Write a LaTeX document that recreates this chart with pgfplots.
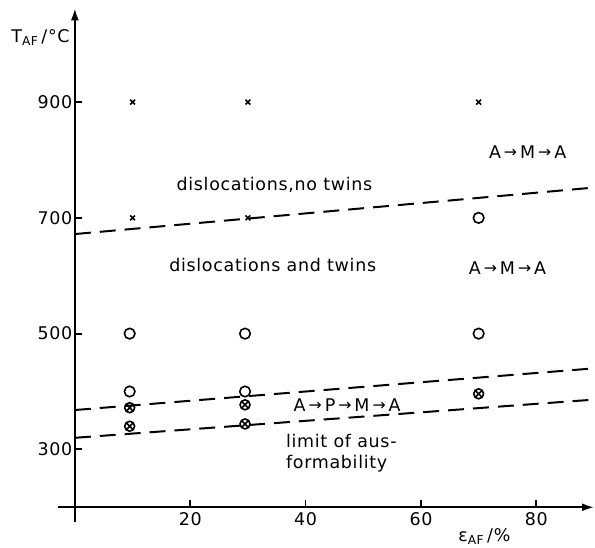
\documentclass[border=0pt]{standalone}
\usepackage{fontspec}
\setmainfont{DejaVu Sans}[LetterSpace=4]
\usepackage{pgfplots}
\pgfplotsset{compat=1.18}
\usetikzlibrary{plotmarks,arrows.meta}

\newcommand{\lbl}{\fontsize{17.5}{21}\selectfont}
\newcommand{\ar}{\hspace{3pt}\raisebox{0.1ex}{\scalebox{0.9}{→}}\hspace{3pt}}

\begin{document}
\begin{tikzpicture}
\begin{axis}[
  x=5.78pt, y=0.58pt,
  xmin=0, xmax=90, ymin=200, ymax=1062,
  axis lines=left,
  axis line style={line width=2pt, -{Latex[length=12pt,width=8pt]}},
  clip=false,
  xtick={20,40,60,80},
  ytick={300,500,700,900},
  tick align=inside,
  major tick length=7pt,
  tick style={line width=1.8pt, black},
  ticklabel style={font=\lbl},
  xticklabel style={yshift=-2pt},
  yticklabel style={xshift=1pt},
  /pgf/number format/assume math mode=true,
]
% boundary lines
\addplot[no marks, line width=2pt, dash pattern=on 16pt off 9pt] coordinates {(0,672) (89.6,752)};
\addplot[no marks, line width=2pt, dash pattern=on 16pt off 9pt] coordinates {(0,368) (90,440)};
\addplot[no marks, line width=2pt, dash pattern=on 16pt off 9pt] coordinates {(0,320) (90,386)};

% specimens
\addplot[only marks, mark=x, mark size=3.4pt, line width=1.6pt] coordinates {
  (10,900) (30,900) (70,900) (10,700) (30,700)
};
\addplot[only marks, mark=o, mark size=5.3pt, line width=1.6pt] coordinates {
  (9.5,500) (29.5,500) (70,500) (9.5,400) (29.5,400) (70,700)
};
\addplot[only marks, mark=otimes, mark size=5pt, line width=1.6pt] coordinates {
  (9.5,372) (9.5,340) (29.5,377) (29.5,344) (70,396)
};

% axis overhang and labels
\draw[line width=2pt] (axis cs:-3,200) -- (axis cs:0,200);
\draw[line width=2pt] (axis cs:0,174) -- (axis cs:0,200);
\node[anchor=west, font=\lbl] at (axis cs:-11.6,1011) {T\textsubscript{AF}\,/°C};
\node[font=\lbl] at (axis cs:71,150) {ε\textsubscript{AF}\,/\%};

\node[font=\lbl] at (axis cs:34.6,757) {dislocations,no twins};
\node[font=\lbl] at (axis cs:34.3,619) {dislocations and twins};
\node[font=\lbl] at (axis cs:78.5,814) {A\ar M\ar A};
\node[font=\lbl] at (axis cs:75,614) {A\ar M\ar A};
\node[font=\lbl] at (axis cs:47.2,377) {A\ar P\ar M\ar A};
\node[anchor=west, font=\lbl, align=left] at (axis cs:36.0,293) {limit of aus-\\formability};

\path (axis cs:-12.98,136.7) rectangle (axis cs:89.97,1076.4);
\end{axis}
\end{tikzpicture}
\end{document}
